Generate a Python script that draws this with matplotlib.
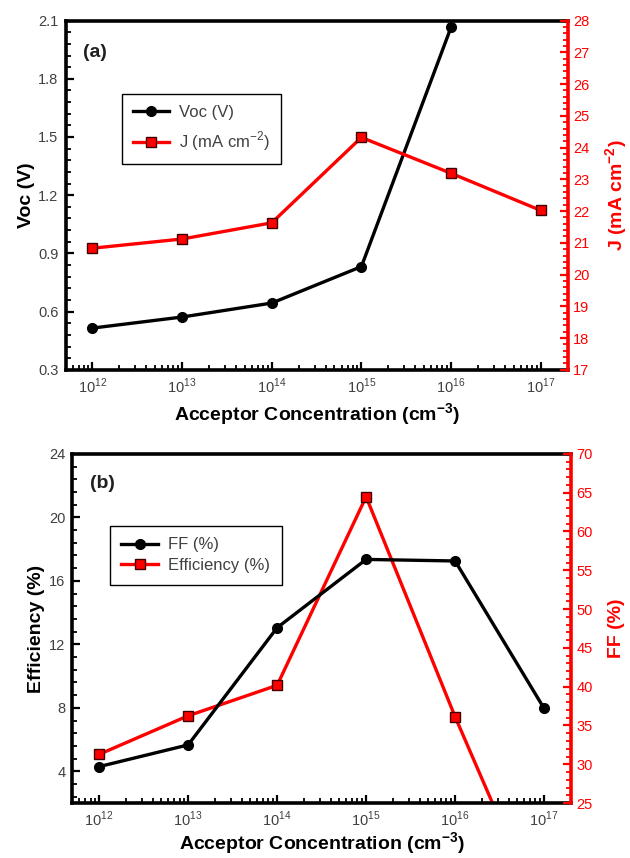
import matplotlib
matplotlib.use('Agg')
import matplotlib.pyplot as plt
from matplotlib.ticker import AutoMinorLocator, LogLocator, FixedLocator, NullFormatter

plt.rcParams['font.family'] = ['Liberation Sans', 'DejaVu Sans']
plt.rcParams['mathtext.fontset'] = 'custom'
plt.rcParams['mathtext.rm'] = 'Liberation Sans'
plt.rcParams['mathtext.bf'] = 'Liberation Sans:bold'

# Data
conc = [1e12, 1e13, 1e14, 1e15, 1e16, 1e17]
voc = [0.515, 0.572, 0.644, 0.832, 2.066]          # V, up to 1e16
jsc = [20.83, 21.12, 21.63, 24.32, 23.19, 22.02]   # mA cm-2
ff = [29.7, 32.5, 47.6, 56.4, 56.2, 37.2]          # %
eff = [5.07, 7.5, 9.42, 21.3, 7.44, -5.5]          # %, last point falls below the axis

x_ticks = [1e12, 1e13, 1e14, 1e15, 1e16, 1e17]
x_labels = ['$10^{12}$', '$10^{13}$', '$10^{14}$', '$10^{15}$', '$10^{16}$', '$10^{17}$']

RED = '#ff0000'
GREY = '#404040'

fig = plt.figure(figsize=(6.3, 8.58), dpi=100)


def style_axes(ax, ax2, ylim, yticks, ylim2, yticks2):
    ax.set_xscale('log')
    ax.set_xlim(10 ** 11.7, 10 ** 17.3)
    ax.xaxis.set_major_locator(FixedLocator(x_ticks))
    ax.set_xticklabels(x_labels)
    ax.xaxis.set_minor_locator(LogLocator(base=10, subs=range(2, 10), numticks=20))
    ax.xaxis.set_minor_formatter(NullFormatter())
    ax.set_ylim(*ylim)
    ax.set_yticks(yticks)
    ax.yaxis.set_minor_locator(AutoMinorLocator(5))
    ax2.set_ylim(*ylim2)
    ax2.set_yticks(yticks2)
    ax2.yaxis.set_minor_locator(AutoMinorLocator(5))

    for s in ['left', 'bottom', 'top']:
        ax.spines[s].set_linewidth(2.6)
        ax.spines[s].set_color('black')
    ax.spines['right'].set_visible(False)
    for s in ['left', 'bottom', 'top']:
        ax2.spines[s].set_visible(False)
    ax2.spines['right'].set_linewidth(2.6)
    ax2.spines['right'].set_color(RED)

    ax.tick_params(axis='both', which='major', direction='in', length=6, width=1.6,
                   labelsize=10.5, labelcolor=GREY, pad=5, top=False, right=False)
    ax.tick_params(axis='both', which='minor', direction='in', length=3.5, width=1.3,
                   top=False, right=False)
    ax2.tick_params(axis='y', which='major', direction='in', length=6, width=1.6,
                    color=RED, labelcolor=RED, labelsize=10.5, pad=4)
    ax2.tick_params(axis='y', which='minor', direction='in', length=3.5, width=1.3,
                    color=RED)


# ---------- Panel (a) ----------
ax = fig.add_axes([0.104, 0.569, 0.797, 0.407])
ax2 = ax.twinx()
style_axes(ax, ax2, (0.3, 2.1), [0.3, 0.6, 0.9, 1.2, 1.5, 1.8, 2.1],
           (17, 28), list(range(17, 29)))
l1, = ax.plot(conc[:5], voc, color='black', lw=2.4, marker='o', ms=7,
              markerfacecolor='black', markeredgecolor='black', label='Voc (V)')
l2, = ax2.plot(conc, jsc, color=RED, lw=2.4, marker='s', ms=7,
               markerfacecolor=RED, markeredgecolor='#400000', markeredgewidth=1,
               label='J (mA cm$^{-2}$)')
ax.set_xlabel('Acceptor Concentration (cm$^{\\mathbf{-3}}$)', fontsize=14,
              fontweight='bold', labelpad=4)
ax.set_ylabel('Voc (V)', fontsize=14, fontweight='bold', labelpad=2)
ax2.set_ylabel('J (mA cm$^{\\mathbf{-2}}$)', fontsize=14, fontweight='bold',
               color=RED, labelpad=10)
ax.text(0.035, 0.91, '(a)', transform=ax.transAxes, fontsize=14, fontweight='bold',
        ha='left', va='center', color='#202020')
leg = ax2.legend([l1, l2], [l1.get_label(), l2.get_label()], loc='upper left',
                 bbox_to_anchor=(0.112, 0.79), borderaxespad=0, fontsize=12,
                 fancybox=False, edgecolor='black', framealpha=1,
                 handlelength=2.2, handletextpad=0.6, borderpad=0.65, labelspacing=0.6)
leg.get_frame().set_linewidth(1.0)
for t in leg.get_texts():
    t.set_color(GREY)

# ---------- Panel (b) ----------
bx = fig.add_axes([0.115, 0.064, 0.791, 0.407])
bx2 = bx.twinx()
style_axes(bx, bx2, (2, 24), [4, 8, 12, 16, 20, 24],
           (25, 70), list(range(25, 71, 5)))
l3, = bx2.plot(conc, ff, color='black', lw=2.4, marker='o', ms=7,
               markerfacecolor='black', markeredgecolor='black', label='FF (%)')
l4, = bx.plot(conc, eff, color=RED, lw=2.4, marker='s', ms=7,
              markerfacecolor=RED, markeredgecolor='#400000', markeredgewidth=1,
              label='Efficiency (%)')
bx.set_xlabel('Acceptor Concentration (cm$^{\\mathbf{-3}}$)', fontsize=14,
              fontweight='bold', labelpad=1)
bx.set_ylabel('Efficiency (%)', fontsize=14, fontweight='bold', labelpad=3)
bx2.set_ylabel('FF (%)', fontsize=14, fontweight='bold', color=RED, labelpad=11)
bx.text(0.035, 0.914, '(b)', transform=bx.transAxes, fontsize=14, fontweight='bold',
        ha='left', va='center', color='#202020')
leg2 = bx2.legend([l3, l4], [l3.get_label(), l4.get_label()], loc='upper left',
                  bbox_to_anchor=(0.075, 0.794), borderaxespad=0, fontsize=12,
                  fancybox=False, edgecolor='black', framealpha=1,
                  handlelength=2.2, handletextpad=0.6, borderpad=0.7, labelspacing=0.35)
leg2.get_frame().set_linewidth(1.0)
for t in leg2.get_texts():
    t.set_color(GREY)

fig.savefig('out.png', dpi=100, facecolor='white')
